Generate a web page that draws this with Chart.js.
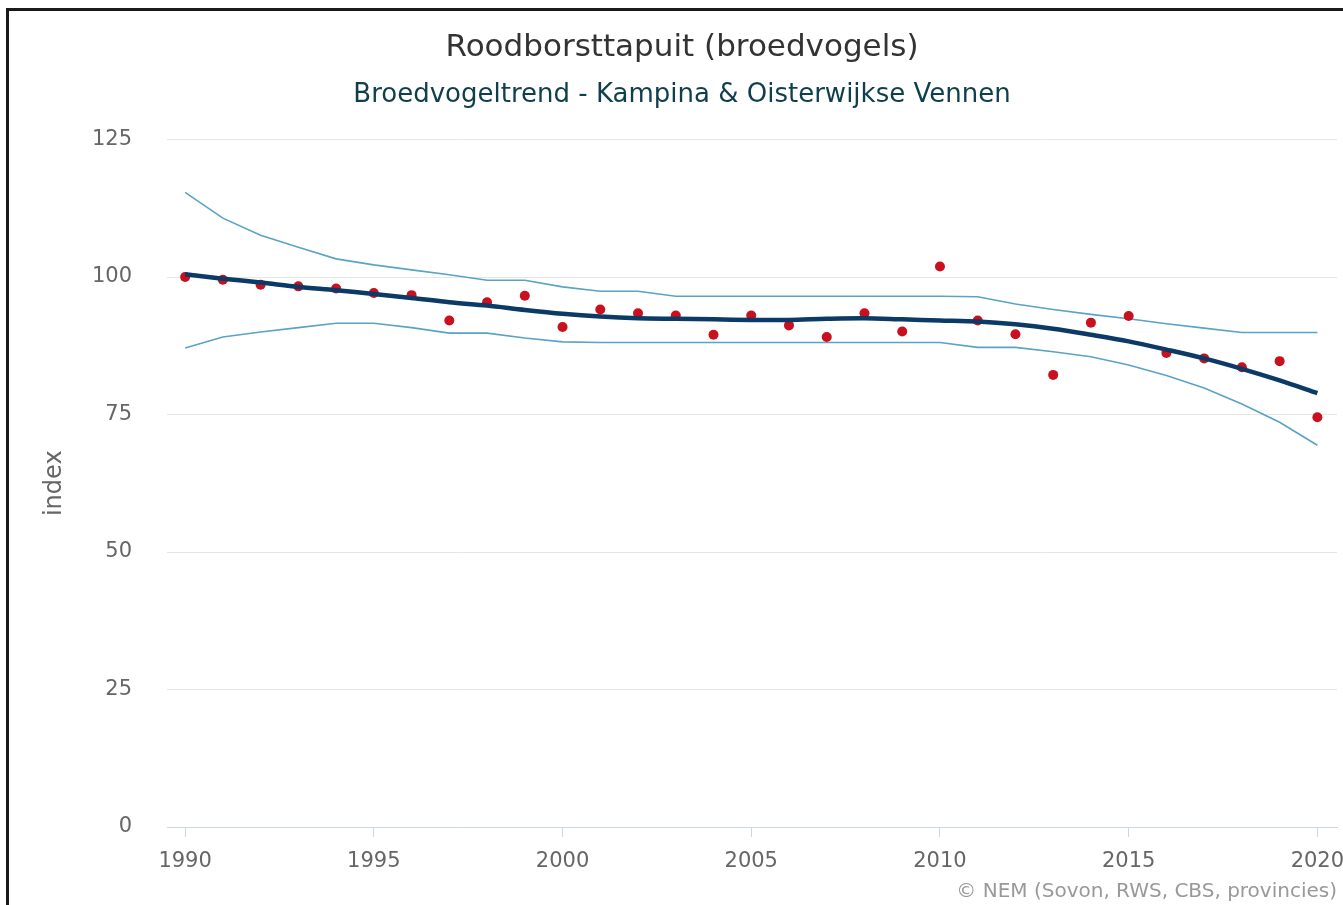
<!DOCTYPE html>
<html>
<head>
<meta charset="utf-8">
<title>Roodborsttapuit (broedvogels)</title>
<script src="https://cdn.jsdelivr.net/npm/chart.js@4.4.1/dist/chart.umd.min.js"></script>
<style>
	html, body { margin: 0; padding: 0; background: #fff; overflow: hidden; }
	#wrap { position: relative; width: 1343px; height: 905px; }
	#frame {
		position: absolute; left: 6px; top: 8px; right: -10px; bottom: -10px;
		border-left: 3px solid #1a1a1a; border-top: 3px solid #1a1a1a;
		pointer-events: none;
	}
	canvas { position: absolute; left: 0; top: 0; }
</style>
</head>
<body>
<div id="wrap">
	<canvas id="trendChart" width="1343" height="905"></canvas>
	<div id="frame"></div>
</div>
<script>
const years = [1990, 1991, 1992, 1993, 1994, 1995, 1996, 1997, 1998, 1999,
	2000, 2001, 2002, 2003, 2004, 2005, 2006, 2007, 2008, 2009,
	2010, 2011, 2012, 2013, 2014, 2015, 2016, 2017, 2018, 2019, 2020];

// jaarlijkse indexwaarden
const indexValues = [100, 99.5, 98.6, 98.3, 97.9, 97.1, 96.7, 92.1, 95.4, 96.6,
	90.9, 94.1, 93.4, 93.0, 89.5, 93.0, 91.2, 89.1, 93.4, 90.1,
	101.9, 92.1, 89.6, 82.2, 91.7, 92.9, 86.2, 85.2, 83.6, 84.7, 74.5];

// trendlijn
const trendValues = [100.5, 99.7, 99.0, 98.2, 97.6, 96.9, 96.2, 95.4, 94.8, 94.0,
	93.3, 92.8, 92.5, 92.4, 92.3, 92.2, 92.2, 92.4, 92.5, 92.3,
	92.1, 91.9, 91.4, 90.6, 89.5, 88.3, 86.8, 85.2, 83.3, 81.2, 78.9];

// betrouwbaarheidsband
const upperValues = [115.4, 110.7, 107.6, 105.4, 103.3, 102.2, 101.3, 100.4, 99.4, 99.4,
	98.2, 97.4, 97.4, 96.5, 96.5, 96.5, 96.5, 96.5, 96.5, 96.5,
	96.5, 96.4, 95.1, 94.1, 93.2, 92.4, 91.5, 90.7, 89.9, 89.9, 89.9];
const lowerValues = [87.1, 89.1, 90.0, 90.8, 91.6, 91.6, 90.8, 89.8, 89.8, 88.9,
	88.2, 88.1, 88.1, 88.1, 88.1, 88.1, 88.1, 88.1, 88.1, 88.1,
	88.1, 87.2, 87.2, 86.4, 85.5, 84.0, 82.1, 79.8, 76.9, 73.6, 69.4];

const xTicks = [1990, 1995, 2000, 2005, 2010, 2015, 2020];
const yTicks = [0, 25, 50, 75, 100, 125];

const FONT = "'DejaVu Sans', 'Lucida Grande', Verdana, sans-serif";

function pairs(values) {
	return years.map((yr, i) => ({ x: yr, y: values[i] }));
}

// bronvermelding rechtsonder
const creditsPlugin = {
	id: 'credits',
	afterDraw(chart) {
		const ctx = chart.ctx;
		ctx.save();
		ctx.font = '20px ' + FONT;
		ctx.fillStyle = '#999999';
		ctx.textAlign = 'right';
		ctx.textBaseline = 'alphabetic';
		ctx.fillText('\u00A9 NEM (Sovon, RWS, CBS, provincies)', 1337, 897);
		ctx.restore();
	}
};

const ctx = document.getElementById('trendChart').getContext('2d');

const config = {
	type: 'line',
	data: {
		datasets: [
			{
				label: 'trend',
				data: pairs(trendValues),
				borderColor: '#0b3a66',
				borderWidth: 4.5,
				pointRadius: 0,
				tension: 0.3,
				fill: false,
				order: 0,
			},
			{
				label: 'index',
				data: pairs(indexValues),
				showLine: false,
				pointRadius: 5,
				pointBackgroundColor: '#c8101e',
				pointBorderWidth: 0,
				borderColor: '#c8101e',
				order: 1,
			},
			{
				label: 'bovengrens',
				data: pairs(upperValues),
				borderColor: '#5aa3c4',
				borderWidth: 1.6,
				pointRadius: 0,
				tension: 0,
				order: 2,
			},
			{
				label: 'ondergrens',
				data: pairs(lowerValues),
				borderColor: '#5aa3c4',
				borderWidth: 1.6,
				pointRadius: 0,
				tension: 0,
				order: 2,
			},
		],
	},
	options: {
		responsive: false,
		animation: false,
		devicePixelRatio: 1,
		layout: { padding: { left: 27, right: 6, top: 0, bottom: 0 } },
		plugins: {
			legend: { display: false },
			tooltip: { enabled: false },
			title: {
				display: true,
				text: 'Roodborsttapuit (broedvogels)',
				color: '#333333',
				font: { family: FONT, size: 31, weight: 'normal' },
				padding: { top: 29.4, bottom: 5.5 },
			},
			subtitle: {
				display: true,
				text: 'Broedvogeltrend - Kampina & Oisterwijkse Vennen',
				color: '#0f3f4c',
				font: { family: FONT, size: 26, weight: 'normal' },
				padding: { top: 7.8, bottom: 28.4 },
			},
		},
		scales: {
			x: {
				type: 'linear',
				min: 1989.52,
				max: 2020.52,
				afterBuildTicks: (scale) => {
					scale.ticks = xTicks.map((v) => ({ value: v }));
				},
				afterFit: (scale) => {
					scale.height = 78;
					scale.paddingLeft = 0;
					scale.paddingRight = 0;
				},
				border: { display: true, color: '#ccd6eb', width: 1 },
				grid: {
					display: true,
					drawOnChartArea: false,
					drawTicks: true,
					tickLength: 10,
					color: '#ccd6eb',
				},
				ticks: {
					color: '#666666',
					font: { family: FONT, size: 21 },
					padding: 12,
					maxRotation: 0,
					autoSkip: false,
					callback: (value) => String(value),
				},
			},
			y: {
				min: 0,
				max: 125,
				afterBuildTicks: (scale) => {
					scale.ticks = yTicks.map((v) => ({ value: v }));
				},
				afterFit: (scale) => {
					scale.width = 140;
					scale.paddingTop = 0;
					scale.paddingBottom = 0;
				},
				border: { display: false },
				grid: {
					color: '#e6e6e6',
					lineWidth: 1,
					drawTicks: false,
				},
				ticks: {
					color: '#666666',
					font: { family: FONT, size: 21 },
					padding: 35,
				},
				title: {
					display: true,
					text: 'index',
					color: '#666666',
					font: { family: FONT, size: 24 },
					padding: { top: 13, bottom: 0 },
				},
			},
		},
	},
	plugins: [creditsPlugin],
};

const trendChart = new Chart(ctx, config);
</script>
</body>
</html>
